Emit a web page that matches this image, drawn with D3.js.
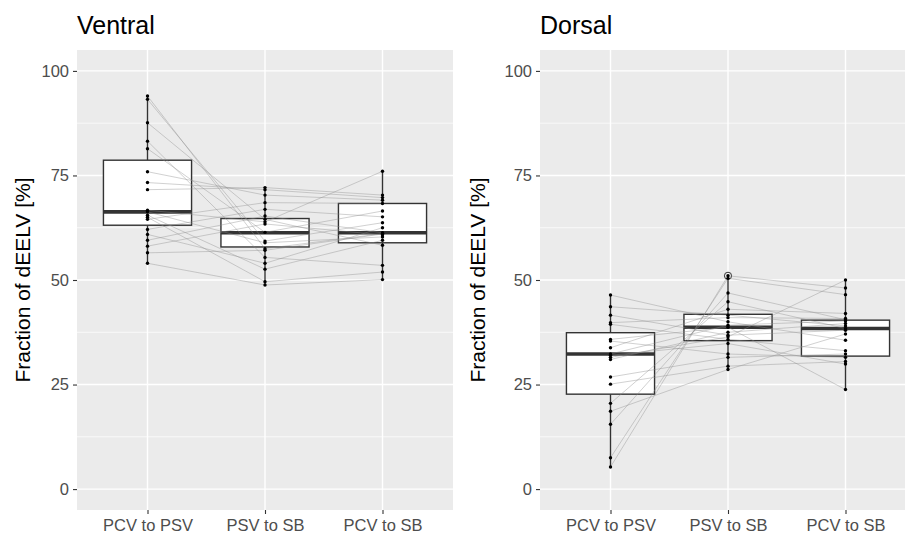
<!DOCTYPE html>
<html>
<head>
<meta charset="utf-8">
<script src="https://cdn.jsdelivr.net/npm/d3@7"></script>
<style>
  html, body { margin: 0; padding: 0; background: #fff; }
  svg { display: block; font-family: "Liberation Sans", Arial, sans-serif; }
</style>
</head>
<body>
<svg id="chart" width="905" height="537"></svg>
<script>
// Transition categories shared by both panels
const categories = ["PCV to PSV", "PSV to SB", "PCV to SB"];
const yTicks = [0, 25, 50, 75, 100];
const yMinor = [12.5, 37.5, 62.5, 87.5];

// Per-subject values, one array per transition (subjects in the same order)
const ventralPCVtoPSV = [94.0, 93.2, 87.6, 83.2, 81.4, 75.9, 73.3, 71.6, 66.7, 66.3, 65.5, 65.0, 64.5, 62.1, 60.9, 59.5, 58.1, 56.5, 54.0];
const ventralPSVtoSB  = [57.5, 59.3, 64.5, 55.4, 61.4, 70.3, 71.6, 72.1, 63.9, 58.9, 52.6, 49.6, 68.5, 66.9, 54.0, 65.3, 63.4, 57.1, 48.8];
const ventralPCVtoSB  = [61.1, 63.7, 58.3, 53.5, 66.5, 69.1, 69.7, 70.3, 76.0, 60.3, 59.5, 51.9, 68.3, 65.1, 62.5, 61.3, 60.8, 61.0, 50.1];

const dorsalPCVtoPSV = [46.4, 43.6, 41.6, 39.8, 39.4, 35.8, 35.4, 33.8, 32.3, 32.0, 31.5, 31.0, 26.8, 25.1, 20.5, 18.6, 15.5, 7.5, 5.3];
const dorsalPSVtoSB  = [40.0, 41.6, 36.8, 41.0, 35.8, 38.7, 32.3, 43.0, 39.2, 34.8, 36.4, 37.5, 31.5, 29.4, 44.8, 28.6, 46.9, 50.4, 51.0];
const dorsalPCVtoSB  = [35.6, 39.0, 38.0, 40.8, 33.1, 23.8, 31.5, 42.0, 40.2, 29.9, 50.0, 39.6, 32.3, 30.5, 38.4, 37.1, 40.5, 46.5, 48.1];

// Box summaries per transition: [lower whisker, Q1, median, Q3, upper whisker]
const ventralBoxes = [
  [54.0, 63.1, 66.3, 78.65, 94.0],
  [48.8, 57.9, 61.3, 64.7, 72.1],
  [50.1, 58.9, 61.3, 68.3, 76.0]
];
const dorsalBoxes = [
  [5.3, 22.7, 32.3, 37.4, 46.4],
  [28.6, 35.5, 38.7, 41.8, 50.4],
  [23.8, 31.8, 38.4, 40.4, 50.0]
];
const ventralOutliers = [[], [], []];
const dorsalOutliers = [[], [51.0], []];

const panels = [
  { title: "Ventral", series: [ventralPCVtoPSV, ventralPSVtoSB, ventralPCVtoSB], boxes: ventralBoxes, outliers: ventralOutliers, left: 77, yTitleX: 30 },
  { title: "Dorsal",  series: [dorsalPCVtoPSV, dorsalPSVtoSB, dorsalPCVtoSB],  boxes: dorsalBoxes,  outliers: dorsalOutliers,  left: 540, yTitleX: 485 }
];

const svg = d3.select("#chart");
const panelW = 376, panelTop = 50, panelBottom = 510;

const y = d3.scaleLinear().domain([-5, 105]).range([panelBottom, panelTop]);

panels.forEach(p => {
  const x = d3.scalePoint().domain(categories).range([p.left, p.left + panelW]).padding(0.6);
  const boxW = x.step() * 0.75;
  const g = svg.append("g");

  // panel background
  g.append("rect").attr("x", p.left).attr("y", panelTop).attr("width", panelW).attr("height", panelBottom - panelTop).attr("fill", "#EBEBEB");

  // minor grid
  g.selectAll(".ymin").data(yMinor).join("line")
    .attr("x1", p.left).attr("x2", p.left + panelW)
    .attr("y1", d => y(d)).attr("y2", d => y(d))
    .attr("stroke", "#fff").attr("stroke-width", 0.7);
  // major grid
  g.selectAll(".ymaj").data(yTicks).join("line")
    .attr("x1", p.left).attr("x2", p.left + panelW)
    .attr("y1", d => y(d)).attr("y2", d => y(d))
    .attr("stroke", "#fff").attr("stroke-width", 1.4);
  g.selectAll(".xmaj").data(categories).join("line")
    .attr("x1", d => x(d)).attr("x2", d => x(d))
    .attr("y1", panelTop).attr("y2", panelBottom)
    .attr("stroke", "#fff").attr("stroke-width", 1.4);

  // y axis
  const yAxis = d3.axisLeft(y).tickValues(yTicks).tickSize(4).tickPadding(4);
  const ya = g.append("g").attr("transform", `translate(${p.left},0)`).call(yAxis);
  ya.select(".domain").remove();
  ya.selectAll("line").attr("stroke", "#333").attr("stroke-width", 1.1);
  ya.selectAll("text").attr("fill", "#4D4D4D").attr("font-size", 16.5).attr("font-family", "Liberation Sans, Arial, sans-serif");

  // x axis
  const xAxis = d3.axisBottom(x).tickSize(4).tickPadding(5);
  const xa = g.append("g").attr("transform", `translate(0,${panelBottom})`).call(xAxis);
  xa.select(".domain").remove();
  xa.selectAll("line").attr("stroke", "#333").attr("stroke-width", 1.1);
  xa.selectAll("text").attr("fill", "#4D4D4D").attr("font-size", 16.5).attr("font-family", "Liberation Sans, Arial, sans-serif");

  // boxes
  p.boxes.forEach((b, i) => {
    const cx = x(categories[i]);
    const [lo, q1, med, q3, hi] = b;
    g.append("line").attr("x1", cx).attr("x2", cx).attr("y1", y(hi)).attr("y2", y(q3))
      .attr("stroke", "#333").attr("stroke-width", 1.4);
    g.append("line").attr("x1", cx).attr("x2", cx).attr("y1", y(q1)).attr("y2", y(lo))
      .attr("stroke", "#333").attr("stroke-width", 1.4);
    g.append("rect").attr("x", cx - boxW / 2).attr("y", y(q3)).attr("width", boxW).attr("height", y(q1) - y(q3))
      .attr("fill", "#fff").attr("stroke", "#333").attr("stroke-width", 1.4);
    g.append("line").attr("x1", cx - boxW / 2).attr("x2", cx + boxW / 2).attr("y1", y(med)).attr("y2", y(med))
      .attr("stroke", "#333").attr("stroke-width", 3.6);
    p.outliers[i].forEach(o => {
      g.append("circle").attr("cx", cx).attr("cy", y(o)).attr("r", 3.6)
        .attr("fill", "none").attr("stroke", "#333").attr("stroke-width", 1);
    });
  });

  // subject trajectories
  const n = p.series[0].length;
  const subjects = d3.range(n).map(j => p.series.map((s, i) => ({ cat: categories[i], v: s[j] })));
  const line = d3.line().x(d => x(d.cat)).y(d => y(d.v));
  g.selectAll(".traj").data(subjects).join("path")
    .attr("d", line).attr("fill", "none")
    .attr("stroke", "#8c8c8c").attr("stroke-opacity", 0.4).attr("stroke-width", 1);

  // subject points
  p.series.forEach((s, i) => {
    g.selectAll(null).data(s).join("circle")
      .attr("cx", x(categories[i])).attr("cy", d => y(d)).attr("r", 1.7).attr("fill", "#000");
  });

  // panel title
  g.append("text").attr("x", p.left).attr("y", 34).attr("font-size", 25).attr("fill", "#000").text(p.title);

  // y axis title
  g.append("text")
    .attr("transform", `translate(${p.yTitleX},${(panelTop + panelBottom) / 2}) rotate(-90)`)
    .attr("text-anchor", "middle").attr("font-size", 21).attr("fill", "#000")
    .text("Fraction of dEELV [%]");
});
</script>
</body>
</html>
